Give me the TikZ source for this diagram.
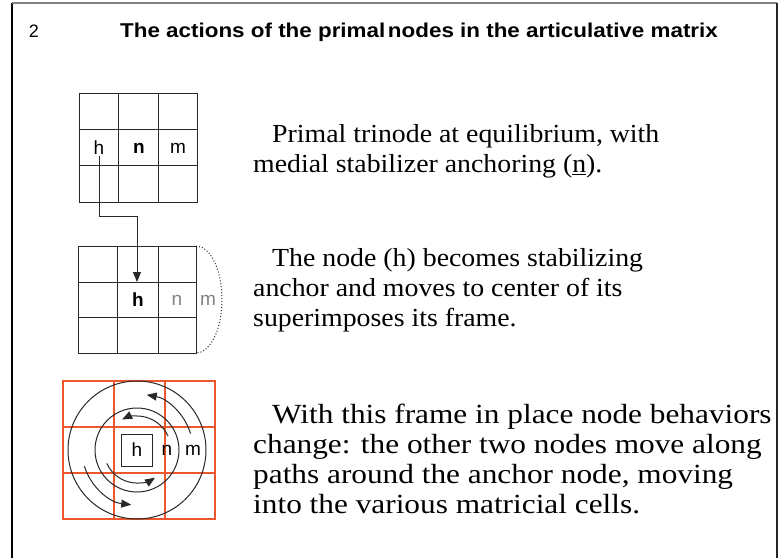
\documentclass[tikz,border=0pt]{standalone}
\usepackage{fontspec}
\setmainfont{Liberation Serif}
\setsansfont{Liberation Sans}
\usetikzlibrary{arrows.meta}
\definecolor{gridc}{RGB}{40,40,40}
\definecolor{redc}{RGB}{236,88,44}
\definecolor{lgray}{RGB}{130,130,130}
\newcommand{\bodyA}[1]{\scalebox{1.07}[1]{#1}}
\newcommand{\bodyB}[1]{\scalebox{1.13}[1]{#1}}
\tikzset{
  gridline/.style={draw=gridc, line width=1pt},
  redline/.style={draw=redc, line width=1.1pt},
  cellsym/.style={font=\sffamily\fontsize{19}{19}\selectfont, inner sep=1pt},
  bodytext/.style={font=\fontsize{26}{30}\selectfont, anchor=base west, inner sep=0pt},
  bodytextb/.style={font=\fontsize{27.7}{30}\selectfont, anchor=base west, inner sep=0pt},
  conn/.style={draw=gridc, line width=1pt},
  tipc/.style={-{Triangle[length=10pt,width=8pt]}},
  circ/.style={draw=gridc, line width=1pt},
}
\begin{document}
\begin{tikzpicture}[x=1pt,y=1pt]
\useasboundingbox (0,0) rectangle (779,558);
% frame
\draw[line width=1.5pt, black] (12,0) -- (12,555);
\draw[line width=2pt, gray] (12,555) -- (777,555);
\draw[line width=2pt, black!85] (777,555) -- (777,0);
% title
\node[font=\sffamily\fontsize{18}{18}\selectfont, anchor=base] (num) at (34,520) {2};
\node[font=\sffamily\bfseries\fontsize{20}{20}\selectfont, anchor=base west, inner sep=0pt] (title) at (120,520) {\scalebox{1.12}[1]{The actions of the primal\hspace{0.12em}nodes in the articulative matrix}};

% grid 1
\draw[gridline] (79,356) rectangle (197,464);
\draw[gridline] (118,356) -- (118,464) (158,356) -- (158,464)
  (79,392) -- (197,392) (79,428) -- (197,428);
\node[cellsym] (h1) at (99,410) {h};
\node[cellsym, font=\sffamily\bfseries\fontsize{19}{19}\selectfont] (n1) at (139,410) {n};
\node[cellsym] (m1) at (178,410) {m};

% grid 2
\draw[gridline] (78,205) rectangle (196,312);
\draw[gridline] (117,205) -- (117,312) (158,205) -- (158,312)
  (78,241) -- (196,241) (78,276) -- (196,276);
\node[cellsym, font=\sffamily\bfseries\fontsize{19}{19}\selectfont] (h2) at (138,258) {h};
\node[cellsym, text=lgray] (n2) at (177,258) {n};
\node[cellsym, text=lgray] (m2) at (208,258) {m};
\draw[dotted, line width=1pt, gridc] (196,312) arc[start angle=90, end angle=-90, x radius=26, y radius=53.5];

% connector
\coordinate (bend) at (99,342);
\coordinate (tip) at (137,276);
\draw[conn, tipc] (h1.south) -- (bend) -| (tip);

% grid 3 (red)
\draw[redline] (63,39) -- (215,39) -- (215,177) -- (63,177) -- cycle;
\draw[redline] (114,39) -- (114,177);
\draw[redline] (165,39) -- (165,177);
\draw[redline] (63,85) -- (215,85);
\draw[redline] (63,131) -- (215,131);
\coordinate (ctr) at (137,108);
\draw[circ] (ctr) circle[radius=69];
\draw[circ] (ctr) circle[radius=42];
\node[draw=gridc, line width=1pt, fill=white, minimum width=31pt, minimum height=32pt, inner sep=0pt, font=\sffamily\fontsize{19}{19}\selectfont] (h3) at (137,108) {h};
\node[cellsym] (n3) at (167,108) {n};
\node[cellsym] (m3) at (193,108) {m};
\draw[circ, tipc] ([shift={(24:34)}]ctr) arc[start angle=24, end angle=116, radius=34];
\draw[circ, tipc] ([shift={(204:33)}]ctr) arc[start angle=204, end angle=303, radius=33];
\draw[circ, tipc] ([shift={(17:56)}]ctr) arc[start angle=17, end angle=80, radius=56];
\draw[circ, tipc] ([shift={(197:55)}]ctr) arc[start angle=197, end angle=264, radius=55];

% texts
\node[bodytext] (t1a) at (272,415) {\bodyA{Primal trinode at equilibrium, with}};
\node[bodytext] (t1b) at (253,385) {\bodyA{medial stabilizer anchoring (\underline{n}).}};
\node[bodytext] (t2a) at (272,292) {\bodyA{The node (h) becomes stabilizing}};
\node[bodytext] (t2b) at (253,262) {\bodyA{anchor and moves to center of its}};
\node[bodytext] (t2c) at (253,232) {\bodyA{superimposes its frame.}};
\node[bodytextb] (t3a) at (272,135) {\bodyB{With this frame in place node behaviors}};
\node[bodytextb] (t3b) at (253,105) {\bodyB{change: the other two nodes move along}};
\node[bodytextb] (t3c) at (253,75) {\bodyB{paths around the anchor node, moving}};
\node[bodytextb] (t3d) at (253,45) {\bodyB{into the various matricial cells.}};
\end{tikzpicture}
\end{document}
